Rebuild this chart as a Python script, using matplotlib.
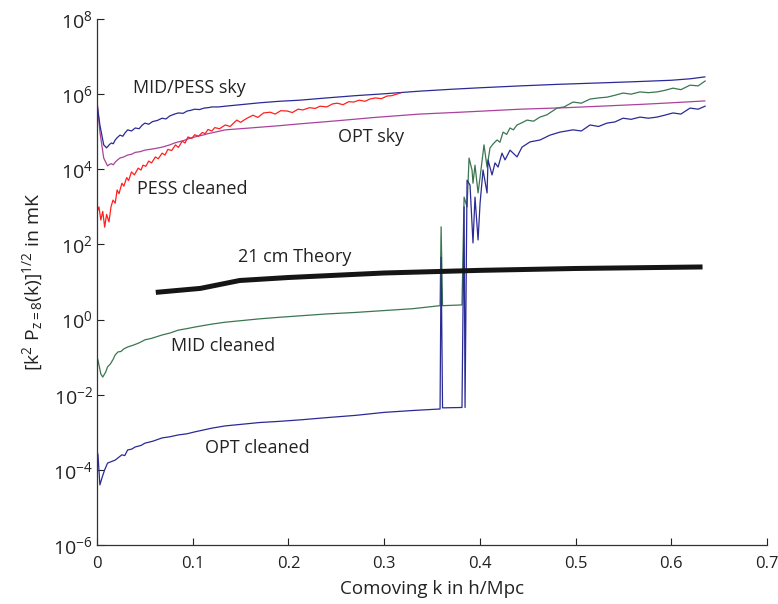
import numpy as np
import matplotlib
matplotlib.use("Agg")
import matplotlib.pyplot as plt

plt.rcParams['font.family'] = ['Open Sans', 'DejaVu Sans']
plt.rcParams['mathtext.fontset'] = 'custom'
plt.rcParams['mathtext.rm'] = 'Open Sans'
plt.rcParams['mathtext.it'] = 'Open Sans'

# values stored as log10 of [k^2 P(k)]^(1/2) in mK
k_sky_mid = [0, 0.003, 0.007, 0.010, 0.013, 0.015, 0.017, 0.019, 0.021, 0.024, 0.027, 0.029,
             0.032, 0.036, 0.040, 0.044, 0.047, 0.050, 0.054, 0.058, 0.063, 0.068, 0.072, 0.076,
             0.081, 0.085, 0.090, 0.094, 0.098, 0.102, 0.107, 0.112, 0.116, 0.120, 0.127, 0.134,
             0.15, 0.17, 0.19, 0.212, 0.24, 0.27, 0.30, 0.337, 0.37, 0.40, 0.442, 0.48, 0.526,
             0.56, 0.60, 0.62, 0.635]
lg_sky_mid = [5.74, 5.18, 4.65, 4.57, 4.66, 4.70, 4.68, 4.78, 4.84, 4.91, 4.88, 4.96,
              5.05, 5.02, 5.10, 5.08, 5.17, 5.23, 5.20, 5.27, 5.30, 5.36, 5.34, 5.42,
              5.47, 5.50, 5.49, 5.55, 5.57, 5.60, 5.59, 5.63, 5.64, 5.66, 5.66, 5.68,
              5.72, 5.77, 5.81, 5.84, 5.90, 5.96, 6.01, 6.08, 6.13, 6.17, 6.22, 6.26, 6.30,
              6.33, 6.37, 6.41, 6.46]

k_sky_opt = [0, 0.003, 0.007, 0.011, 0.013, 0.015, 0.017, 0.019, 0.021, 0.024, 0.028, 0.032,
             0.036, 0.040, 0.045, 0.050, 0.055, 0.060, 0.064, 0.068, 0.072, 0.076, 0.081, 0.085,
             0.090, 0.094, 0.098, 0.102, 0.107, 0.112, 0.116, 0.120, 0.127, 0.134, 0.16, 0.19,
             0.212, 0.25, 0.29, 0.337, 0.38, 0.442, 0.49, 0.526, 0.57, 0.60, 0.635]
lg_sky_opt = [5.84, 5.00, 4.30, 4.09, 4.13, 4.15, 4.12, 4.19, 4.24, 4.30, 4.33, 4.38,
              4.40, 4.45, 4.47, 4.51, 4.53, 4.55, 4.57, 4.59, 4.62, 4.65, 4.70, 4.73,
              4.76, 4.80, 4.83, 4.86, 4.89, 4.92, 4.95, 4.97, 5.01, 5.05, 5.10, 5.16,
              5.21, 5.29, 5.38, 5.47, 5.52, 5.60, 5.64, 5.68, 5.73, 5.77, 5.82]

k_pess = [0.000, 0.002, 0.004, 0.006, 0.008, 0.010, 0.0125, 0.0146, 0.0167, 0.019, 0.021, 0.023,
          0.026, 0.028, 0.031, 0.033, 0.036, 0.039, 0.043, 0.046, 0.048, 0.051, 0.054, 0.057,
          0.061, 0.064, 0.068, 0.071, 0.074, 0.078, 0.082, 0.085, 0.089, 0.092, 0.095, 0.099,
          0.102, 0.106, 0.110, 0.113, 0.116, 0.120, 0.123, 0.128, 0.134, 0.139, 0.146, 0.150,
          0.156, 0.163, 0.168, 0.174, 0.181, 0.186, 0.192, 0.199, 0.204, 0.210, 0.215, 0.222,
          0.228, 0.233, 0.240, 0.246, 0.251, 0.257, 0.263, 0.268, 0.274, 0.280, 0.285, 0.291,
          0.297, 0.303, 0.308, 0.313, 0.317]
lg_pess = [2.86, 3.00, 2.65, 2.88, 2.46, 2.80, 2.60, 3.00, 3.18, 3.10, 3.45, 3.35,
           3.63, 3.55, 3.78, 3.70, 3.93, 3.85, 4.03, 3.98, 4.11, 4.08, 4.22, 4.17,
           4.33, 4.28, 4.43, 4.38, 4.53, 4.50, 4.65, 4.58, 4.75, 4.70, 4.86, 4.82,
           4.92, 4.88, 4.98, 4.95, 5.06, 5.02, 5.11, 5.08, 5.18, 5.14, 5.31, 5.25,
           5.35, 5.44, 5.38, 5.50, 5.52, 5.47, 5.56, 5.55, 5.51, 5.60, 5.58, 5.64,
           5.62, 5.68, 5.66, 5.74, 5.76, 5.72, 5.80, 5.79, 5.84, 5.81, 5.87, 5.90,
           5.88, 5.95, 5.96, 6.00, 6.03]

k_mid = [0.000, 0.001, 0.004, 0.006, 0.009, 0.011, 0.014, 0.017, 0.019, 0.022, 0.025, 0.028,
         0.032, 0.038, 0.044, 0.050, 0.057, 0.068, 0.076, 0.085, 0.094, 0.102, 0.111, 0.120,
         0.134, 0.15, 0.17, 0.19, 0.212, 0.24, 0.27, 0.30, 0.33, 0.3584, 0.3595, 0.3610,
         0.3813, 0.3835, 0.3866, 0.3887, 0.3918, 0.3928, 0.3949, 0.3981, 0.4002, 0.4043, 0.4075,
         0.4106, 0.4140, 0.4179, 0.4210, 0.4242, 0.4280, 0.4315, 0.4350, 0.4388, 0.4440, 0.4493,
         0.4560, 0.4628, 0.4700, 0.4806, 0.4880, 0.4973, 0.5060, 0.5151, 0.5240, 0.5328, 0.5410,
         0.5496, 0.5580, 0.5673, 0.5760, 0.5851, 0.5930, 0.6018, 0.6100, 0.6196, 0.6280, 0.6353]
lg_mid = [-1.00, -1.08, -1.45, -1.53, -1.40, -1.26, -1.18, -1.05, -0.94, -0.86, -0.85, -0.78,
          -0.73, -0.68, -0.62, -0.54, -0.50, -0.41, -0.36, -0.28, -0.24, -0.20, -0.16, -0.12,
          -0.07, -0.03, 0.02, 0.06, 0.10, 0.15, 0.19, 0.24, 0.29, 0.37, 2.47, 0.37,
          0.39, 3.26, 3.00, 4.30, 3.98, 3.63, 4.11, 3.37, 3.79, 4.65, 4.06,
          4.57, 4.68, 4.78, 4.72, 4.99, 4.93, 5.10, 5.05, 5.18, 5.24, 5.31,
          5.28, 5.39, 5.45, 5.63, 5.66, 5.79, 5.76, 5.87, 5.90, 5.92, 5.97,
          6.03, 6.00, 6.06, 6.04, 6.06, 6.10, 6.16, 6.12, 6.24, 6.22, 6.35]

k_opt = [0.000, 0.001, 0.003, 0.006, 0.008, 0.011, 0.015, 0.019, 0.022, 0.026, 0.029, 0.032,
         0.036, 0.040, 0.046, 0.050, 0.058, 0.068, 0.076, 0.085, 0.094, 0.102, 0.111, 0.120,
         0.134, 0.15, 0.17, 0.19, 0.212, 0.24, 0.27, 0.30, 0.33, 0.3584, 0.3595, 0.3610,
         0.3813, 0.3835, 0.3845, 0.3866, 0.3897, 0.3928, 0.3949, 0.3981, 0.4002, 0.4033, 0.4075,
         0.4085, 0.4127, 0.4158, 0.4190, 0.4231, 0.4263, 0.4315, 0.4388, 0.4440, 0.4524, 0.4628,
         0.4733, 0.4837, 0.4973, 0.5060, 0.5151, 0.5240, 0.5328, 0.5410, 0.5496, 0.5580, 0.5673,
         0.5760, 0.5851, 0.5930, 0.6018, 0.6100, 0.6196, 0.6280, 0.6353]
lg_opt = [-3.50, -3.60, -4.40, -4.15, -4.00, -3.82, -3.78, -3.74, -3.68, -3.60, -3.62, -3.47,
          -3.45, -3.39, -3.35, -3.29, -3.24, -3.15, -3.12, -3.07, -3.04, -2.99, -2.94, -2.89,
          -2.83, -2.79, -2.74, -2.71, -2.67, -2.61, -2.55, -2.47, -2.42, -2.38, 1.66, -2.35,
          -2.34, 3.00, -2.34, 3.71, 3.58, 2.04, 3.26, 2.12, 3.10, 3.98, 3.37,
          4.25, 3.85, 4.17, 4.06, 4.43, 4.25, 4.51, 4.33, 4.59, 4.73, 4.78,
          4.91, 4.99, 5.05, 5.02, 5.18, 5.14, 5.23, 5.26, 5.36, 5.33, 5.39,
          5.36, 5.39, 5.44, 5.50, 5.47, 5.63, 5.60, 5.68]

k_theory = [0.064, 0.108, 0.149, 0.2, 0.3, 0.4, 0.5, 0.63]
lg_theory = [0.73, 0.83, 1.04, 1.12, 1.24, 1.31, 1.36, 1.40]

fig = plt.figure(figsize=(7.78, 6.04), dpi=100)
ax = fig.add_axes([0.1247, 0.0977, 0.8612, 0.8708])

lw = 0.9
ax.plot(k_sky_opt, 10 ** np.array(lg_sky_opt), color='#aa429c', lw=lw)
ax.plot(k_sky_mid, 10 ** np.array(lg_sky_mid), color='#2a2a96', lw=lw)
ax.plot(k_pess, 10 ** np.array(lg_pess), color='#ff2020', lw=lw)
ax.plot(k_mid, 10 ** np.array(lg_mid), color='#3b7650', lw=lw)
ax.plot(k_opt, 10 ** np.array(lg_opt), color='#2a2a96', lw=lw)
ax.plot(k_theory, 10 ** np.array(lg_theory), color='#151515', lw=3.6)

ax.set_yscale('log')
ax.set_xlim(0, 0.7)
ax.set_ylim(1e-6, 1e8)
ax.set_yticks([10.0 ** p for p in range(-6, 9, 2)])
ax.yaxis.set_minor_locator(matplotlib.ticker.NullLocator())
ax.set_xticks([0, 0.1, 0.2, 0.3, 0.4, 0.5, 0.6, 0.7])
ax.set_xticklabels(['0', '0.1', '0.2', '0.3', '0.4', '0.5', '0.6', '0.7'])
ax.tick_params(direction='in', length=5, width=0.8, colors='#222222')
ax.tick_params(axis='x', labelsize=12, pad=8)
ax.tick_params(axis='y', labelsize=14, pad=3)
ax.spines['top'].set_visible(False)
ax.spines['right'].set_visible(False)
for s in ['left', 'bottom']:
    ax.spines[s].set_color('#333333')
    ax.spines[s].set_linewidth(0.9)

ax.set_xlabel('Comoving k in h/Mpc', fontsize=13.5, color='#222222', labelpad=6)
ax.set_ylabel(r'[k$^{2}$ P$_{z=8}$(k)]$^{1/2}$ in mK', fontsize=14, color='#222222', labelpad=6)

tc = '#222222'
ax.text(0.0376, 10 ** 6.16, 'MID/PESS sky', fontsize=13, color=tc, va='center')
ax.text(0.2518, 10 ** 4.86, 'OPT sky', fontsize=13, color=tc, va='center')
ax.text(0.0418, 10 ** 3.47, 'PESS cleaned', fontsize=13, color=tc, va='center')
ax.text(0.1473, 10 ** 1.66, '21 cm Theory', fontsize=13, color=tc, va='center')
ax.text(0.0773, 10 ** -0.70, 'MID cleaned', fontsize=13, color=tc, va='center')
ax.text(0.1128, 10 ** -3.42, 'OPT cleaned', fontsize=13, color=tc, va='center')

fig.savefig('out.png', dpi=100)
